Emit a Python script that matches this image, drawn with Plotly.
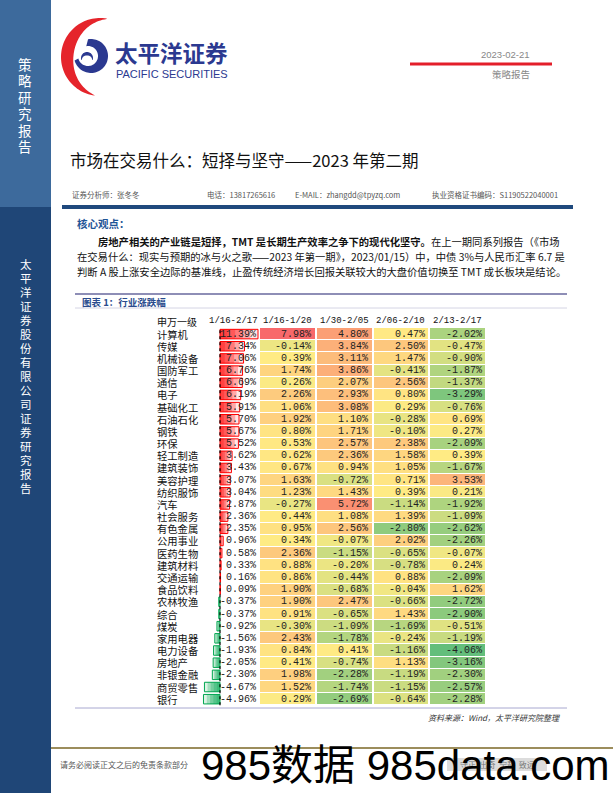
import numpy as np
import plotly.graph_objects as go

industries = ["计算机", "传媒", "机械设备", "国防军工", "通信", "电子", "基础化工", "石油石化",
              "钢铁", "环保", "轻工制造", "建筑装饰", "美容护理", "纺织服饰", "汽车", "社会服务",
              "有色金属", "公用事业", "医药生物", "建筑材料", "交通运输", "食品饮料", "农林牧渔",
              "综合", "煤炭", "家用电器", "电力设备", "房地产", "非银金融", "商贸零售", "银行"]
total_label = "1/16-2/17"
total_chg = [11.39, 7.34, 7.06, 6.76, 6.69, 6.19, 5.91, 5.70, 5.67, 5.52, 3.62, 3.43, 3.07, 3.04,
             2.87, 2.36, 2.35, 0.96, 0.58, 0.33, 0.16, 0.09, -0.37, -0.37, -0.92, -1.56, -1.93,
             -2.05, -2.30, -4.67, -4.96]
periods = ["1/16-1/20", "1/30-2/05", "2/06-2/10", "2/13-2/17"]
wk_0116 = [7.98, -0.14, 0.39, 1.74, 0.26, 2.26, 1.06, 1.92, 0.80, 0.53, 0.62, 0.67, 1.63, 1.23,
           -0.27, 0.44, 0.95, 0.34, 2.36, 0.88, 0.86, 1.90, 1.90, 0.91, -0.30, 2.43, 0.84, 0.41,
           1.98, 1.52, 0.29]
wk_0130 = [4.80, 3.84, 3.11, 3.86, 2.07, 2.93, 3.08, 1.10, 1.71, 2.57, 2.36, 0.94, -0.72, 1.43,
           5.72, 1.08, 2.56, -0.07, -1.15, -0.20, -0.44, -0.68, 2.47, -0.65, -1.09, -1.78, 0.41,
           -0.74, -2.28, -1.74, -2.69]
wk_0206 = [0.47, 2.50, 1.47, -0.41, 2.56, 0.80, 0.29, -0.28, -0.10, 2.38, 1.58, 1.05, 0.71, 0.39,
           -1.14, 1.39, -2.80, 2.02, -0.65, -0.78, 0.88, -0.04, -0.66, 1.43, -1.69, -0.24, -1.16,
           1.13, -1.19, -1.15, -0.64]
wk_0213 = [-2.02, -0.47, -0.90, -1.87, -1.37, -3.29, -0.76, 0.69, 0.27, -2.09, 0.39, -1.67, 3.53,
           0.21, -1.92, -1.09, -2.62, -2.26, -0.07, 0.24, -2.09, 1.62, -2.72, -2.90, -0.51, -1.19,
           -4.06, -3.16, -2.30, -2.57, -2.28]

W, H = 613, 793
CJK = "Noto Sans CJK SC"
MONO = "Liberation Mono"
NAVY = "#1f497d"


def px(x):
    return x / W


def py(y):
    return 1 - y / H


TOP, PITCH = 328, 12.17
BOT = TOP + PITCH * len(industries)

shapes = []
annotations = []


def rect(x0, y0, x1, y1, color):
    shapes.append(dict(type="rect", xref="paper", yref="paper", x0=px(x0), x1=px(x1),
                       y0=py(y0), y1=py(y1), fillcolor=color, line=dict(width=0), layer="below"))


def hline(x0, x1, y, color, width=1):
    shapes.append(dict(type="line", xref="paper", yref="paper", x0=px(x0), x1=px(x1),
                       y0=py(y), y1=py(y), line=dict(color=color, width=width)))


def txt(x, y, s, size, color="#000", family=CJK, xanchor="left", **kw):
    annotations.append(dict(x=px(x), y=py(y), xref="paper", yref="paper", text=s,
                            showarrow=False, xanchor=xanchor, yanchor="middle",
                            font=dict(size=size, color=color, family=family), **kw))


def vtext(x, y0, y1, s, size, color="white"):
    # one character per line, evenly spaced
    for k, ch in enumerate(s):
        txt(x, y0 + (y1 - y0) * k / (len(s) - 1), ch, size, color, xanchor="center")


def path(pts, color):
    d = "M " + " L ".join(f"{px(a):.5f},{py(b):.5f}" for a, b in pts) + " Z"
    shapes.append(dict(type="path", xref="paper", yref="paper", path=d,
                       fillcolor=color, line=dict(width=0)))


def crescent(cx, cy, r, a0, a1, tmax, color, n=60):
    a = np.linspace(a0, a1, n)
    t = tmax * np.sin(np.pi * (a - a0) / (a1 - a0)) + 0.5
    rad = np.radians(a)
    outer = list(zip(cx + r * np.cos(rad), cy - r * np.sin(rad)))
    inner = list(zip(cx + (r - t) * np.cos(rad), cy - (r - t) * np.sin(rad)))
    path(outer + inner[::-1], color)


# page frame
rect(0, 0, 51, H, "#1f4677")
rect(0, 0, 51, 207, "#3d6a9c")
vtext(25, 64, 146, "策略研究报告", 13.5)
vtext(26, 264, 488, "太平洋证券股份有限公司证券研究报告", 11.5)

# logo
crescent(100, 57, 39, 80, 262, 12, "#e5242b")
a = np.radians(np.linspace(100, -165, 60))
outer = list(zip(91 + 17 * np.cos(a), 56 - 17 * np.sin(a)))
inner = list(zip(88 + 10 * np.cos(a), 56 - 10 * np.sin(a)))
path(outer + inner[::-1], "#2b3990")
crescent(87, 58, 6, 200, -20, 3, "#2b3990")
txt(113, 52, "<b>太平洋证券</b>", 22.5, "#2b3990")
txt(114, 74, "PACIFIC SECURITIES", 11, "#2b3990", "Liberation Sans")

txt(532, 54, "2023-02-21", 9.5, "#888", "Liberation Sans", xanchor="right")
hline(410, 552, 64, "#e31e2a", 3)
txt(532, 74, "策略报告", 9.5, "#888", xanchor="right")

txt(68, 160, "市场在交易什么：短择与坚守——2023 年第二期", 16.5, "#111")
txt(70, 194, "证券分析师：张冬冬", 7.5, "#555")
txt(205, 194, "电话：13817265616", 7.5, "#555")
txt(293, 194, "E-MAIL：zhangdd@tpyzq.com", 7.5, "#555")
txt(430, 194, "执业资格证书编码：S1190522040001", 7.5, "#555")
rect(62, 205, 573, 209, NAVY)

txt(75, 224, "<b>核心观点：</b>", 10.5, "#1f5597")
txt(96, 241, "<b>房地产相关的产业链是短择，TMT 是长期生产效率之争下的现代化坚守。</b>"
             "在上一期同系列报告（《市场", 10.3, "#111")
txt(75, 256, "在交易什么：现实与预期的冰与火之歌——2023 年第一期》，2023/01/15）中，"
             "中债 3%与人民币汇率 6.7 是", 10.3, "#111")
txt(75, 271, "判断 A 股上涨安全边际的基准线，止盈传统经济增长回报关联较大的大盘价值切换至 "
             "TMT 成长板块是结论。", 10.3, "#111")

hline(75, 567, 294, "#8e8eb6", 2)
txt(80, 302, "<b>图表 1：行业涨跌幅</b>", 9.5, "#2a4b8d")
hline(75, 567, 308, "#d4d4e4", 1)

# table
z = np.array([wk_0116, wk_0130, wk_0206, wk_0213]).T
zmin, zmax = z.min(), z.max()
mid = (np.median(z) - zmin) / (zmax - zmin)

fig = go.Figure()
fig.add_trace(go.Heatmap(
    z=z, x=periods, y=industries, zmin=zmin, zmax=zmax, showscale=False,
    colorscale=[[0, "#63BE7B"], [mid, "#FFEB84"], [1, "#F8696B"]],
    xgap=2, ygap=1, hoverinfo="skip"))

tot = np.array(total_chg)
pos = tot >= 0
fig.add_trace(go.Bar(
    x=tot, y=industries, orientation="h", xaxis="x2", yaxis="y", width=0.78,
    marker=dict(color=np.where(pos, "#ffe6e6", "#dcf3e4"),
                line=dict(color=np.where(pos, "#ff0000", "#00a650"), width=1)),
    hoverinfo="skip"))
for f in (0.8, 0.6, 0.4, 0.2):
    fig.add_trace(go.Bar(
        x=tot * f, y=industries, orientation="h", xaxis="x2", yaxis="y", width=0.78,
        marker=dict(color=np.where(pos, "rgba(255,0,0,0.27)", "rgba(0,166,80,0.27)"),
                    line=dict(width=0)),
        hoverinfo="skip"))
shapes.append(dict(type="line", xref="x2", yref="paper", x0=0, x1=0, y0=py(BOT), y1=py(TOP),
                   line=dict(color="#000", width=1.2, dash="dot")))

txt(155, 321, "申万一级", 10, "#111")
txt(233, 321, total_label, 9, "#111", MONO, xanchor="center")
for i, p in enumerate(periods):
    annotations.append(dict(x=i, y=py(321), xref="x", yref="paper", text=p, showarrow=False,
                            xanchor="center", yanchor="middle",
                            font=dict(size=9, color="#111", family=MONO)))

for r, name in enumerate(industries):
    annotations.append(dict(x=px(155), y=name, xref="paper", yref="y", text=name,
                            showarrow=False, xanchor="left", yanchor="middle",
                            font=dict(size=10.3, color="#111", family=CJK)))
    annotations.append(dict(x=px(258), y=name, xref="paper", yref="y",
                            text=f"{total_chg[r]:.2f}%", showarrow=False, xanchor="right",
                            yanchor="middle", font=dict(size=10, color="#222", family=MONO)))
    for c in range(len(periods)):
        annotations.append(dict(x=c + 0.46, y=name, xref="x", yref="y",
                                text=f"{z[r, c]:.2f}%", showarrow=False, xanchor="right",
                                yanchor="middle", font=dict(size=10, color="#222", family=MONO)))

hline(75, 567, 708, "#a8a8d0", 1)
txt(562, 717, "<i>资料来源：Wind，太平洋研究院整理</i>", 8, "#333", xanchor="right")

# footer
hline(51, 613, 748, "#9c8d5c", 2)
txt(58, 764, "请务必阅读正文之后的免责条款部分", 8, "#555")
rect(447, 758, 547, 771, "#dcdcdc")
txt(497, 764, "守正  出奇  宁静  致远", 8, "#777", xanchor="center")
txt(405, 765, "985数据 985data.com", 42, "#000", f"Liberation Sans, {CJK}", xanchor="center")

fig.update_layout(
    width=W, height=H, margin=dict(l=0, r=0, t=0, b=0),
    paper_bgcolor="white", plot_bgcolor="white", showlegend=False, barmode="overlay",
    xaxis=dict(domain=[px(259), px(486)], range=[-0.5, 3.5], visible=False),
    yaxis=dict(domain=[py(BOT), py(TOP)], type="category", categoryarray=industries,
               range=[len(industries) - 0.5, -0.5], visible=False),
    xaxis2=dict(domain=[px(200), px(259)], range=[-6.0, 11.69], anchor="y", visible=False),
    shapes=shapes, annotations=annotations)

# drop the page's default body margin so the figure sits at the window's corner
fig.write_html("out.html", config={"displayModeBar": False},
               post_script="document.body.style.margin='0';")
